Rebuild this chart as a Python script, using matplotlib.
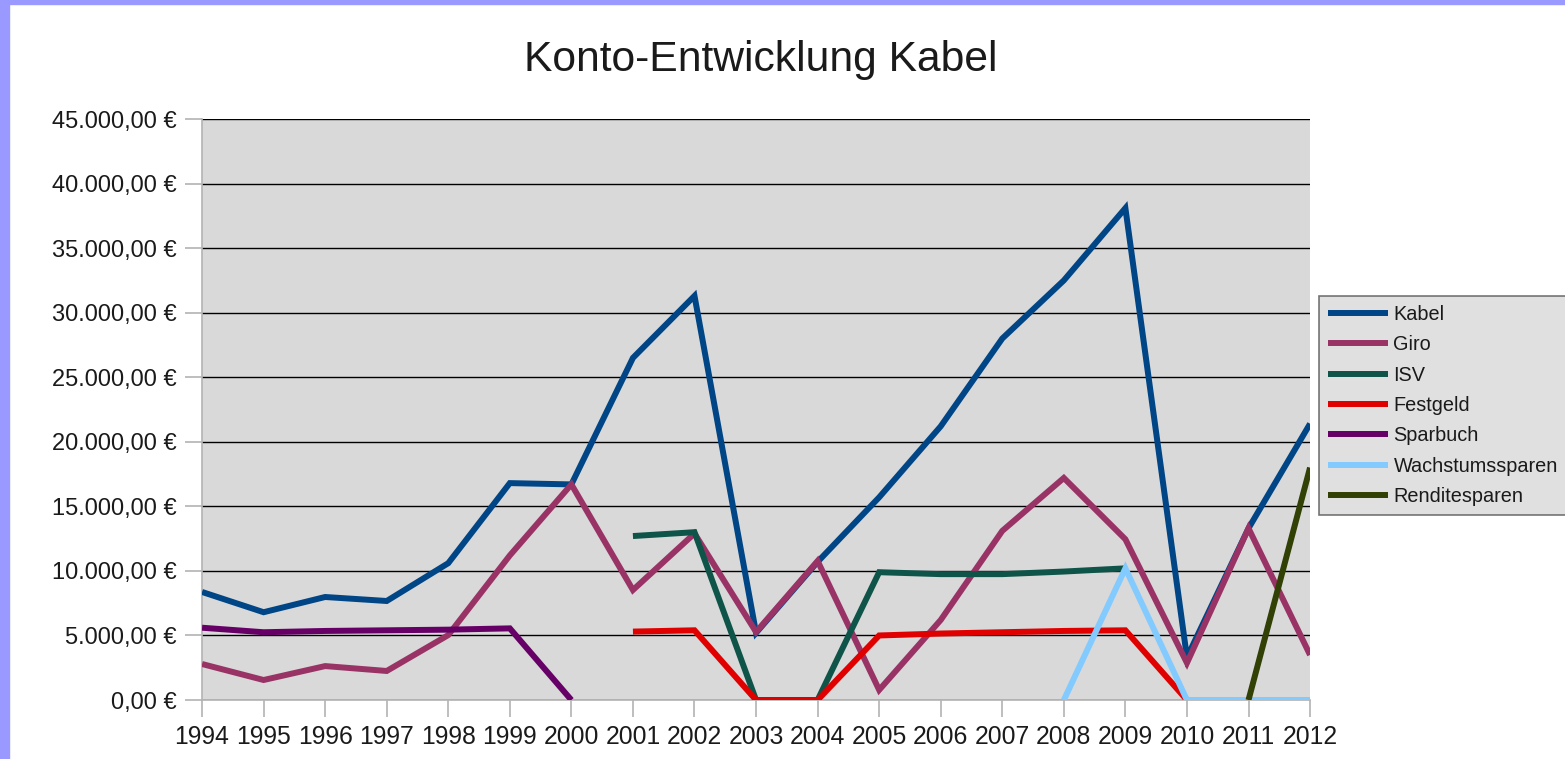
import numpy as np
import matplotlib.pyplot as plt
from matplotlib.patches import Rectangle

plt.rcParams['font.family'] = ['Liberation Sans', 'DejaVu Sans']

years = list(range(1994, 2013))
nan = np.nan

# Kontostände je Jahr (Euro), nan = kein Wert
kabel = [8370, 6800, 7980, 7670, 10600, 16800, 16700, 26500, 31300, 5200,
         10700, 15700, 21200, 28000, 32500, 38100, 3300, 13300, 21400]
giro = [2790, 1550, 2630, 2250, 5030, 11200, 16700, 8520, 12900, 5270,
        10770, 780, 6200, 13100, 17200, 12450, 2870, 13300, 3490]
isv = [nan, nan, nan, nan, nan, nan, nan, 12700, 13000, 0,
       0, 9900, 9750, 9750, 9950, 10200, nan, nan, nan]
festgeld = [nan, nan, nan, nan, nan, nan, nan, 5300, 5400, 0,
            0, 5000, 5150, 5250, 5350, 5400, 0, nan, nan]
sparbuch = [5600, 5250, 5350, 5400, 5450, 5550, 0, nan, nan, nan,
            nan, nan, nan, nan, nan, nan, nan, nan, nan]
wachstum = [nan, nan, nan, nan, nan, nan, nan, nan, nan, nan,
            nan, nan, nan, nan, 0, 10200, 0, 0, 0]
rendite = [nan, nan, nan, nan, nan, nan, nan, nan, nan, nan,
           nan, nan, nan, nan, nan, nan, nan, 0, 18000]

series = [
    ("Kabel", kabel, "#004586"),
    ("Giro", giro, "#993366"),
    ("ISV", isv, "#0f5448"),
    ("Festgeld", festgeld, "#e00000"),
    ("Sparbuch", sparbuch, "#660066"),
    ("Wachstumssparen", wachstum, "#83caff"),
    ("Renditesparen", rendite, "#314004"),
]

y_ticks = list(range(0, 45001, 5000))
y_labels = ["0,00 €", "5.000,00 €", "10.000,00 €", "15.000,00 €", "20.000,00 €",
            "25.000,00 €", "30.000,00 €", "35.000,00 €", "40.000,00 €", "45.000,00 €"]

fig = plt.figure(figsize=(15.65, 7.59), dpi=100)
ax = fig.add_axes([0.1291, 0.0777, 0.708, 0.7655])
ax.set_facecolor("#d9d9d9")

# Rahmen oben/links wie im Original
fig.patches.append(Rectangle((0, 0), 9 / 1565, 1, transform=fig.transFigure,
                             color="#9999ff", zorder=0))
fig.patches.append(Rectangle((0, 1 - 4 / 759), 1, 4 / 759, transform=fig.transFigure,
                             color="#9999ff", zorder=0))

for name, vals, col in series:
    ax.plot(years, vals, color=col, lw=4.3, label=name, solid_joinstyle="miter",
            solid_capstyle="butt", zorder=3)

ax.set_xlim(1994, 2012)
ax.set_ylim(0, 45000)
ax.set_xticks(years)
ax.set_xticklabels([str(y) for y in years], fontsize=17.8, color="#1a1a1a")
ax.set_yticks(y_ticks)
ax.set_yticklabels(y_labels, fontsize=17, color="#1a1a1a")
ax.grid(axis="y", color="black", lw=1, zorder=1)
ax.tick_params(axis="both", length=12, color="#b3b3b3", width=1.2)
ax.tick_params(axis="x", pad=6)
ax.tick_params(axis="y", pad=6)
for s in ["left", "bottom"]:
    ax.spines[s].set_color("#b3b3b3")
    ax.spines[s].set_linewidth(1.2)
for s in ["top", "right"]:
    ax.spines[s].set_visible(False)

fig.text(0.4863, 1 - 60 / 759, "Konto-Entwicklung Kabel", ha="center", va="center",
         fontsize=30.7, color="#1a1a1a")

leg = ax.legend(loc="upper left", bbox_to_anchor=(1319 / 1565, 463 / 759),
                bbox_transform=fig.transFigure, fontsize=14.3, frameon=True,
                fancybox=False, handlelength=3.0, handletextpad=0.3,
                labelspacing=0.57, borderpad=0.45, borderaxespad=0)
leg.get_frame().set_facecolor("#d9d9d9")
leg.get_frame().set_edgecolor("#555555")
leg.get_frame().set_linewidth(1.2)
for line in leg.get_lines():
    line.set_linewidth(4.3)
for t in leg.get_texts():
    t.set_color("#1a1a1a")

fig.savefig("out.png", dpi=100)
